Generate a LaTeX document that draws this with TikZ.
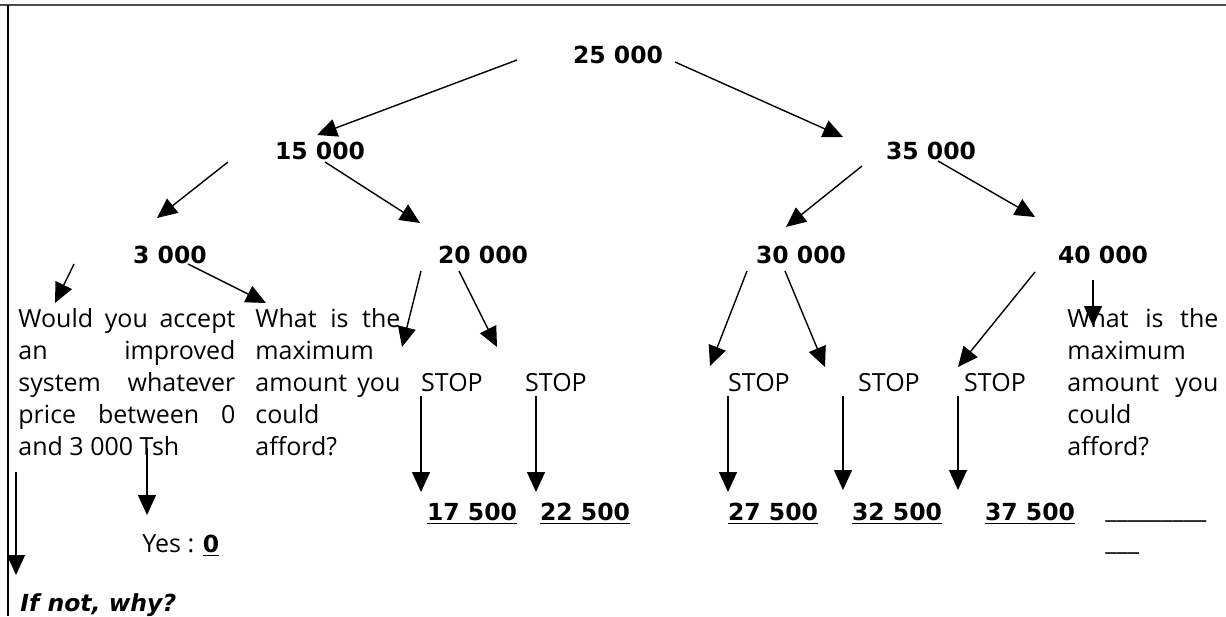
\documentclass[tikz,border=0pt]{standalone}
\usepackage{fontspec}
\setmainfont{Open Sans}
\newfontfamily\numfont{DejaVu Sans}
\usetikzlibrary{arrows.meta}
\usetikzlibrary{positioning}
\tikzset{num/.style = {font = \numfont\bfseries\fontsize{11.75}{14}\selectfont, inner sep = 0, anchor = base}}
\tikzset{word/.style = {font = \fontsize{12.5}{16}\selectfont, inner sep = 0, anchor = base}}
\tikzset{para/.style = {font = \fontsize{12.5}{16}\selectfont, inner sep = 0, align = left, anchor = north west}}
\tikzset{arr/.style = {-{Triangle[length = 10pt, width = 9pt]}, line width = 0.7pt}}
\newcommand{\spread}[2]{\makebox[#1][s]{#2}}

\begin{document}
\begin{tikzpicture}[x = 0.5pt, y = -0.5pt]
    \useasboundingbox (0, 0) rectangle (1226, 616);
    \draw [gray!60!black, line width = 1pt] (0, 5) -- (1226, 5);
    \draw [line width = 0.75pt] (8, 5) -- (8, 616);

    \node [num] (n25) at (618, 63) {25 000};
    \node [num] (n15) at (320, 159) {15 000};
    \node [num] (n35) at (931, 159) {35 000};
    \node [num] (n3) at (170, 263) {3 000};
    \node [num] (n20) at (483, 263) {20 000};
    \node [num] (n30) at (801, 263) {30 000};
    \node [num] (n40) at (1103, 263) {40 000};

    \node [para] (accept) at (18, 308)
        {\spread{108.5pt}{Would you accept}\\ \spread{108.5pt}{an improved}\\ \spread{108.5pt}{system whatever}\\ \spread{108.5pt}{price between 0}\\ and 3 000 Tsh};
    \node [para] (maxl) at (255, 308)
        {\spread{72.5pt}{What is the}\\ maximum\\ \spread{72.5pt}{amount you}\\ could\\ afford?};
    \node [para] (maxr) at (1067, 308)
        {\spread{75.5pt}{What is the}\\ maximum\\ \spread{75.5pt}{amount you}\\ could\\ afford?};

    \node [word] (stop1) at (452, 391) {STOP};
    \node [word] (stop2) at (556, 391) {STOP};
    \node [word] (stop3) at (759, 391) {STOP};
    \node [word] (stop4) at (889, 391) {STOP};
    \node [word] (stop5) at (995, 391) {STOP};

    \node [num] (r17) at (472, 520) {\underline{17 500}};
    \node [num] (r22) at (585, 520) {\underline{22 500}};
    \node [num] (r27) at (773, 520) {\underline{27 500}};
    \node [num] (r32) at (897, 520) {\underline{32 500}};
    \node [num] (r37) at (1030, 520) {\underline{37 500}};
    \node [word, anchor = base west] (blank1) at (1105, 518) {\_\_\_\_\_\_\_\_\_};
    \node [word, anchor = base west] (blank2) at (1105, 550) {\_\_\_};

    \node [word, anchor = base west] (yes) at (142, 552) {Yes : {\numfont\bfseries\fontsize{11.75}{14}\selectfont\underline{0}}};
    \node [num, anchor = base west, font = \numfont\bfseries\itshape\fontsize{11.75}{14}\selectfont] (why) at (20, 611) {If not, why?};

    \coordinate (a15s) at (317, 135);
    \coordinate (a25e) at (517, 60);
    \coordinate (a25w) at (675, 62);
    \coordinate (a35n) at (843, 137);
    \coordinate (a15w) at (228, 162);
    \coordinate (a3n) at (157, 218);
    \coordinate (a15e) at (325, 162);
    \coordinate (a20n) at (420, 223);
    \coordinate (a35w) at (862, 166);
    \coordinate (a30n) at (786, 227);
    \coordinate (a35e) at (938, 161);
    \coordinate (a40n) at (1035, 217);
    \coordinate (a3w) at (74, 264);
    \coordinate (aacc) at (55, 303);
    \coordinate (a3e) at (188, 264);
    \coordinate (amaxl) at (266, 303);
    \coordinate (a20w) at (421, 271);
    \coordinate (as1) at (402, 347);
    \coordinate (a20e) at (459, 271);
    \coordinate (as2) at (497, 347);
    \coordinate (a30w) at (747, 271);
    \coordinate (as3) at (710, 366);
    \coordinate (a30e) at (785, 271);
    \coordinate (as4) at (825, 367);
    \coordinate (a40w) at (1035, 272);
    \coordinate (as5) at (958, 367);
    \coordinate (a40s) at (1093, 280);
    \coordinate (amaxr) at (1093, 326);

    \draw [arr] (a25e) -- (a15s);
    \draw [arr] (a25w) -- (a35n);
    \draw [arr] (a15w) -- (a3n);
    \draw [arr] (a15e) -- (a20n);
    \draw [arr] (a35w) -- (a30n);
    \draw [arr] (a35e) -- (a40n);
    \draw [arr] (a3w) -- (aacc);
    \draw [arr] (a3e) -- (amaxl);
    \draw [arr] (a20w) -- (as1);
    \draw [arr] (a20e) -- (as2);
    \draw [arr] (a30w) -- (as3);
    \draw [arr] (a30e) -- (as4);
    \draw [arr] (a40w) -- (as5);
    \draw [arr] (a40s) -- (amaxr);

    \foreach \x/\y in {421/492, 536/492, 728/492, 843/490, 958/490}
        \draw [arr] (\x, 396) -- (\x, \y);
    \draw [arr] (147, 448) -- (147, 515);
    \draw [arr] (16, 472) -- (16, 575);
\end{tikzpicture}
\end{document}
